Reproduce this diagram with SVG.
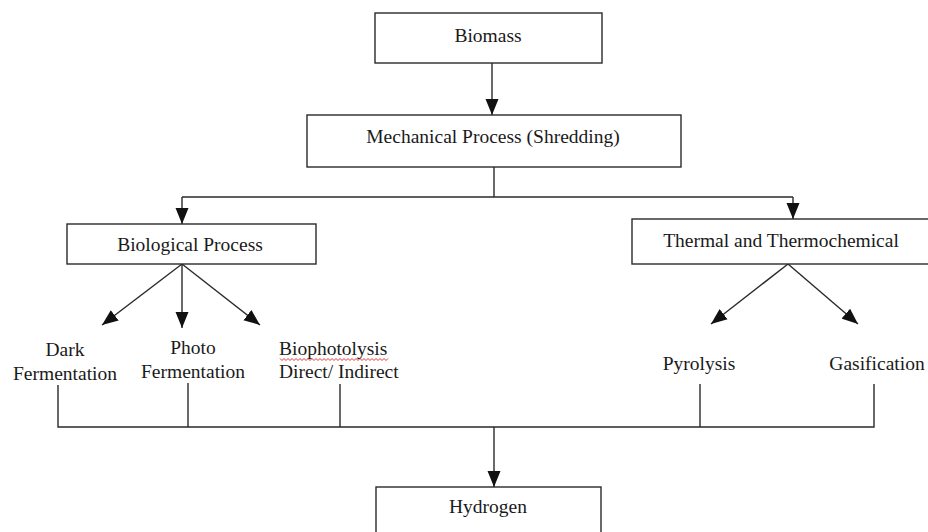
<svg xmlns="http://www.w3.org/2000/svg" width="928" height="532" viewBox="0 0 928 532">
<style>
.box{fill:#fff;stroke:#2a2a2a;stroke-width:1.4}
.ln{fill:none;stroke:#2a2a2a;stroke-width:1.4}
text{font-family:"Liberation Serif","Times New Roman",serif;font-size:19.5px;fill:#1a1a1a}
.c{text-anchor:middle}
</style>
<defs>
<marker id="ah" markerUnits="userSpaceOnUse" markerWidth="17" markerHeight="14" refX="16" refY="7" orient="auto">
<path d="M0,0.5 L16,7 L0,13.5 z" fill="#111"/>
</marker>
</defs>
<rect width="928" height="532" fill="#fff"/>
<g id="connectors">
<line class="ln" x1="492" y1="63" x2="492" y2="115" marker-end="url(#ah)"/>
<polyline class="ln" points="494,167 494,197"/>
<polyline class="ln" points="182,197 793,197"/>
<line class="ln" x1="182" y1="197" x2="182" y2="224" marker-end="url(#ah)"/>
<line class="ln" x1="793" y1="197" x2="793" y2="219" marker-end="url(#ah)"/>
<line class="ln" x1="182" y1="264" x2="102" y2="325" marker-end="url(#ah)"/>
<line class="ln" x1="182" y1="264" x2="182" y2="328" marker-end="url(#ah)"/>
<line class="ln" x1="182" y1="264" x2="260" y2="325" marker-end="url(#ah)"/>
<line class="ln" x1="788" y1="264" x2="711" y2="324" marker-end="url(#ah)"/>
<line class="ln" x1="788" y1="264" x2="858" y2="324" marker-end="url(#ah)"/>
<polyline class="ln" points="58,385 58,427 874,427 874,384"/>
<line class="ln" x1="188" y1="383" x2="188" y2="427"/>
<line class="ln" x1="340" y1="384" x2="340" y2="427"/>
<line class="ln" x1="700" y1="384" x2="700" y2="427"/>
<line class="ln" x1="494" y1="427" x2="494" y2="487" marker-end="url(#ah)"/>
</g>
<g id="biomass">
<rect class="box" x="375" y="13" width="227" height="50"/>
<text class="c" x="488" y="42">Biomass</text>
</g>
<g id="mechanical">
<rect class="box" x="307" y="115" width="374" height="52"/>
<text class="c" x="493" y="143">Mechanical Process (Shredding)</text>
</g>
<g id="biological">
<rect class="box" x="67" y="224" width="249" height="40"/>
<text class="c" x="190" y="251">Biological Process</text>
</g>
<g id="thermal">
<rect class="box" x="632" y="219" width="310" height="45"/>
<text class="c" x="781" y="247">Thermal and Thermochemical</text>
</g>
<g id="dark">
<text class="c" x="65" y="356">Dark</text>
<text class="c" x="65" y="380">Fermentation</text>
</g>
<g id="photo">
<text class="c" x="193" y="354">Photo</text>
<text class="c" x="193" y="378">Fermentation</text>
</g>
<g id="biophotolysis">
<text x="279" y="355">Biophotolysis</text>
<text x="279" y="378">Direct/ Indirect</text>
<polyline points="280,358.5 282,360.5 284,358.5 286,360.5 288,358.5 290,360.5 292,358.5 294,360.5 296,358.5 298,360.5 300,358.5 302,360.5 304,358.5 306,360.5 308,358.5 310,360.5 312,358.5 314,360.5 316,358.5 318,360.5 320,358.5 322,360.5 324,358.5 326,360.5 328,358.5 330,360.5 332,358.5 334,360.5 336,358.5 338,360.5 340,358.5 342,360.5 344,358.5 346,360.5 348,358.5 350,360.5 352,358.5 354,360.5 356,358.5 358,360.5 360,358.5 362,360.5 364,358.5 366,360.5 368,358.5 370,360.5 372,358.5 374,360.5 376,358.5 378,360.5 380,358.5 382,360.5 384,358.5 386,360.5 388,358.5" fill="none" stroke="#e02020" stroke-width="0.9"/>
</g>
<g id="pyrolysis">
<text class="c" x="699" y="370">Pyrolysis</text>
</g>
<g id="gasification">
<text class="c" x="877" y="370">Gasification</text>
</g>
<g id="hydrogen">
<rect class="box" x="376" y="487" width="225" height="60"/>
<text class="c" x="488" y="513">Hydrogen</text>
</g>
</svg>
